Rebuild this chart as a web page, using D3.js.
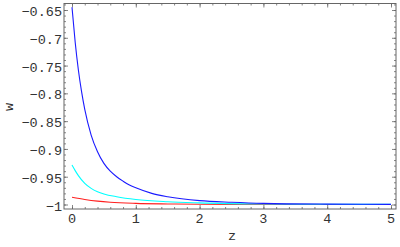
<!DOCTYPE html>
<html>
<head>
<meta charset="utf-8">
<script src="https://cdn.jsdelivr.net/npm/d3@7"></script>
<style>
  html, body { margin: 0; padding: 0; background: #fff; }
  svg { display: block; }
  .lab { font-family: "Liberation Mono", monospace; font-size: 13.5px; fill: #333; }
  .domain { display: none; }
  .tick line { stroke: #666; stroke-width: 0.8; }
</style>
</head>
<body>
<div id="chart"></div>
<script>
'use strict';

// values
var blueZ = [0, 0.05, 0.1, 0.15, 0.2, 0.3, 0.4, 0.5, 0.6, 0.7, 0.8, 0.9, 1.0, 1.25, 1.5, 2.0, 2.5, 3.0, 4.0, 5.0];
var blueW = [-0.645, -0.708, -0.758, -0.797, -0.829, -0.875, -0.905, -0.926, -0.940, -0.950, -0.958, -0.965, -0.970, -0.980, -0.986, -0.993, -0.996, -0.998, -0.9993, -0.9997];

var cyanZ = [0, 0.05, 0.1, 0.2, 0.3, 0.4, 0.5, 0.7, 1.0, 1.5, 2.0, 3.0, 4.0, 5.0];
var cyanW = [-0.929, -0.939, -0.948, -0.962, -0.971, -0.977, -0.981, -0.986, -0.991, -0.995, -0.997, -0.999, -0.9996, -0.9998];

var redZ = [0, 0.2, 0.4, 0.6, 1.0, 1.5, 2.0, 3.0, 5.0];
var redW = [-0.987, -0.991, -0.994, -0.996, -0.998, -0.999, -0.9995, -0.9998, -0.9999];

var xTicks = [0, 1, 2, 3, 4, 5];
var yTicks = [-1, -0.95, -0.9, -0.85, -0.8, -0.75, -0.7, -0.65];

(function() {

  var series = [
    { z: redZ, w: redW, color: '#ff2020' },
    { z: cyanZ, w: cyanW, color: '#00ffff' },
    { z: blueZ, w: blueW, color: '#1a1aff' }
  ];

  var width = 400, height = 247;
  var mLeft = 64, mRight = 396, mTop = 3.5, mBottom = 209;

  var x = d3.scaleLinear().domain([0, 5]).range([72, 391]);
  var y = d3.scaleLinear().domain([-1, -0.65]).range([204.5, 10]);

  var svg = d3.select('#chart').append('svg')
      .attr('width', width)
      .attr('height', height);

  function fmt(v){
    return String(v).replace('-', '\u2212');
  }

  var minorX = d3.range(0, 26).map(i => i * 0.2);
  var minorY = d3.range(0, 37).map(i => -1 + i * 0.01);

  function ticks(axis, pos, vals, size) {
    svg.append('g').attr('transform', pos)
      .call(axis.tickValues(vals).tickSizeInner(-size).tickSizeOuter(0).tickFormat(''));
  }

  // ticks on all four sides, pointing inward
  ticks(d3.axisBottom(x), `translate(0,${mBottom})`, minorX, 2);
  ticks(d3.axisBottom(x), `translate(0,${mBottom})`, xTicks, 4);
  ticks(d3.axisTop(x), `translate(0,${mTop})`, minorX, 2);
  ticks(d3.axisTop(x), `translate(0,${mTop})`, xTicks, 4);
  ticks(d3.axisLeft(y), `translate(${mLeft},0)`, minorY, 2);
  ticks(d3.axisLeft(y), `translate(${mLeft},0)`, yTicks, 4);
  ticks(d3.axisRight(y), `translate(${mRight},0)`, minorY, 2);
  ticks(d3.axisRight(y), `translate(${mRight},0)`, yTicks, 4);

  svg.append('rect')
      .attr('x', mLeft).attr('y', mTop)
      .attr('width', mRight - mLeft).attr('height', mBottom - mTop)
      .attr('fill', 'none')
      .attr('stroke', '#666')
      .attr('stroke-width', 1);

  // tick labels
  svg.append('g').selectAll('text')
    .data(xTicks)
    .join('text')
      .attr('class', 'lab')
      .attr('x', d => x(d))
      .attr('y', 223)
      .attr('text-anchor', 'middle')
      .text(d => fmt(d));

  svg.append('g').selectAll('text')
    .data(yTicks)
    .join('text')
      .attr('class', 'lab')
      .attr('x', 62)
      .attr('y', d => y(d) + 6)
      .attr('text-anchor', 'end')
      .text(d => fmt(d));

  svg.append('text')
      .attr('class', 'lab')
      .attr('x', 232).attr('y', 240)
      .attr('text-anchor', 'middle')
      .text('z');

  svg.append('text')
      .attr('class', 'lab')
      .attr('transform', 'translate(13,107) rotate(-90)')
      .attr('text-anchor', 'middle')
      .text('w');

  var line = d3.line()
      .x(d => x(d[0]))
      .y(d => y(d[1]))
      .curve(d3.curveMonotoneX);

  svg.append('g').selectAll('path')
    .data(series)
    .join('path')
      .attr('d', s => line(d3.zip(s.z, s.w)))
      .attr('fill', 'none')
      .attr('stroke', s => s.color)
      .attr('stroke-width', 1.1);

})();
</script>
</body>
</html>
